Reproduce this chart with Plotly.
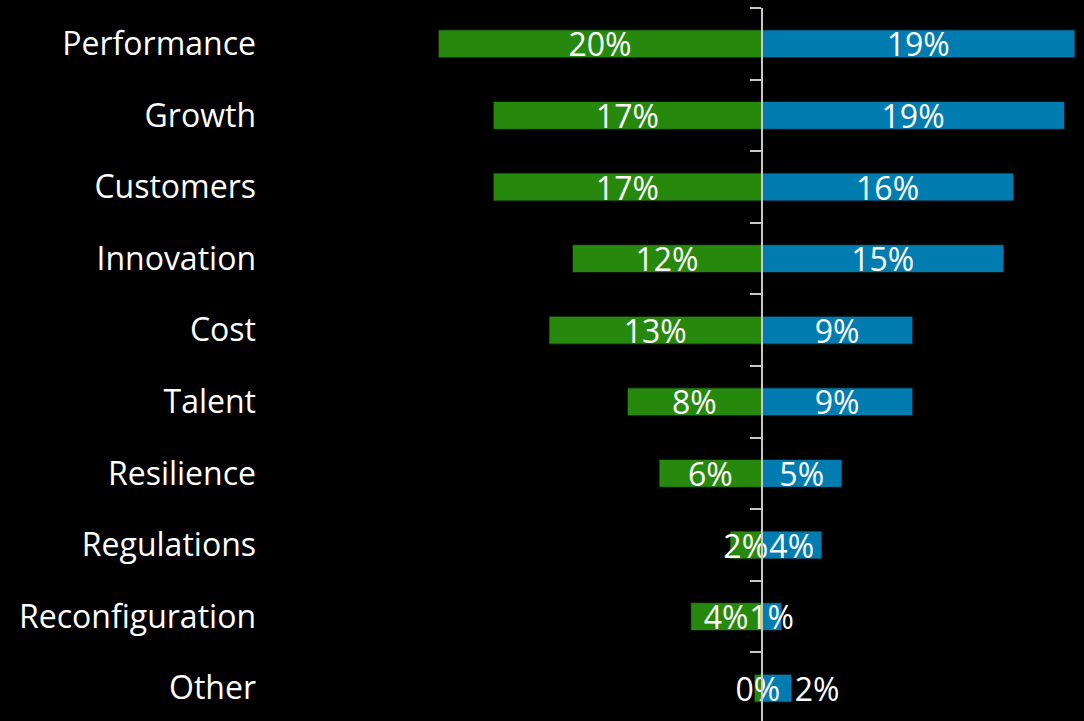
import plotly.graph_objects as go

# Survey share by priority area: two groups compared side by side
categories = ["Performance", "Growth", "Customers", "Innovation", "Cost",
              "Talent", "Resilience", "Regulations", "Reconfiguration", "Other"]
left_share = [0.200, 0.166, 0.166, 0.117, 0.1315, 0.083, 0.0634, 0.0195, 0.0438, 0.0045]
right_share = [0.194, 0.1876, 0.156, 0.150, 0.0936, 0.0936, 0.0498, 0.0374, 0.0125, 0.0187]

GREEN = "#26890D"
BLUE = "#007CB0"
TEXT_FONT = dict(family="Open Sans", size=32, color="white")
EDGE = dict(color="rgb(17,17,17)", width=0.5)

# px geometry of the plotting area
W, H = 1084, 721
ML, MR, MT, MB = 257, 0, 8, 0
plot_w = W - ML - MR
zero_px = 761.5 - ML          # where x = 0 falls inside the plot area
px_per_unit = 1616.0
x_lo = -zero_px / px_per_unit
x_hi = (plot_w - zero_px) / px_per_unit

n = len(categories)
row_px = 71.6
rows_visible = (H - MT - MB) / row_px
y_range = [-0.5 + rows_visible, -0.5]

left_x = [-v for v in left_share]
left_txt = [f"{round(v * 100):.0f}%" for v in left_share]
right_txt = [f"{round(v * 100):.0f}%" for v in right_share]
right_pos = ["inside"] * (n - 1) + ["outside"]

fig = go.Figure()

# coloured bars on the main y axis (which also carries the category labels)
fig.add_trace(go.Bar(y=categories, x=left_x, orientation="h",
                     marker=dict(color=GREEN, line=EDGE),
                     hoverinfo="skip", yaxis="y"))
fig.add_trace(go.Bar(y=categories, x=right_share, orientation="h",
                     marker=dict(color=BLUE, line=EDGE),
                     hoverinfo="skip", yaxis="y"))

# percentage labels on the overlaid axis so they sit above every bar
label_common = dict(orientation="h", marker=dict(color="rgba(0,0,0,0)"),
                    insidetextanchor="middle", textangle=0, constraintext="none",
                    textfont=TEXT_FONT, outsidetextfont=TEXT_FONT,
                    cliponaxis=False, hoverinfo="skip", yaxis="y2")
fig.add_trace(go.Bar(y=categories, x=left_x, text=left_txt,
                     textposition="inside", **label_common))
fig.add_trace(go.Bar(y=categories, x=right_share, text=right_txt,
                     textposition=right_pos, **label_common))

common_y = dict(type="category", categoryorder="array", categoryarray=categories,
                range=y_range, showgrid=False, zeroline=False)

fig.update_layout(
    template="plotly_dark",
    width=W, height=H,
    margin=dict(l=ML, r=MR, t=MT, b=MB, pad=0),
    paper_bgcolor="black", plot_bgcolor="black",
    barmode="relative", bargap=0.61,
    showlegend=False,
    xaxis=dict(range=[x_lo, x_hi], showgrid=False, zeroline=False,
               showticklabels=False, showline=False, ticks=""),
    yaxis=dict(**common_y, showline=False, ticks="",
               tickfont=dict(family="Open Sans", size=32, color="white")),
    yaxis2=dict(**common_y, overlaying="y", anchor="free",
                position=zero_px / plot_w, side="left",
                showline=True, linecolor="#c8c8c8", linewidth=2,
                ticks="outside", tickson="boundaries", ticklen=11,
                tickwidth=2, tickcolor="#c8c8c8", showticklabels=False),
)

fig.write_html("out.html")
